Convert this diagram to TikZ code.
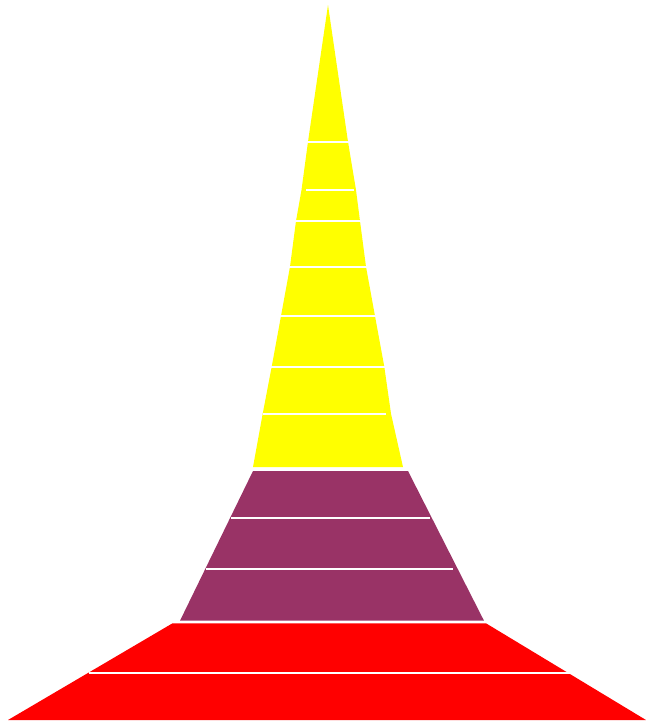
\documentclass[tikz,border=0pt]{standalone}
\usepackage{xcolor}
\usepackage{tikz}
\definecolor{plum}{HTML}{993366}
\definecolor{spire}{HTML}{FFFF00}
\definecolor{base}{HTML}{FF0000}

\begin{document}
\begin{tikzpicture}[
  x=0.02cm, y=-0.02cm,
  slice/.style={draw=none},
  gap/.style={white, line width=1.15pt}
]
\useasboundingbox (0,0) rectangle (646,721);
% spire
\fill[slice, spire] (328,5) -- (348,141.7) -- (356,190) -- (360,221) -- (366,266.7)
  -- (375,316) -- (384.3,366.7) -- (391,413.7) -- (403,467) -- (253,467)
  -- (262.7,413.7) -- (271.7,366.7) -- (281,316) -- (290,266.7) -- (296,221)
  -- (301.5,190) -- (308,141.7) -- cycle;
% middle
\fill[slice, plum] (253,471) -- (408,471) -- (484,620.7) -- (180,620.7) -- cycle;
% base
\fill[slice, base] (172.5,623.3) -- (486,623.3) -- (646,720) -- (8,720) -- cycle;
% separating lines
\foreach \y/\a/\b in {141.7/300/356, 190/306/354, 221/290/366, 266.7/284/372,
    316/275/381, 366.7/265/391, 413.7/262.7/385.7,
    518.3/231/430, 569/205.7/453.3, 672.7/88.6/572.7}
  \draw[gap] (\a,\y) -- (\b,\y);
\end{tikzpicture}
\end{document}
